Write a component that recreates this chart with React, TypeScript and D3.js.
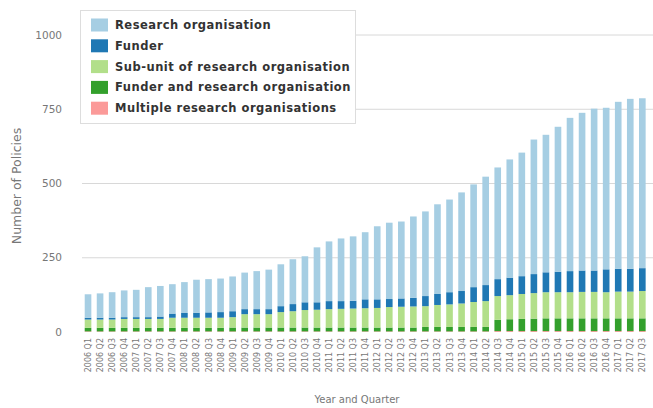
import { useEffect, useRef } from 'react';
import * as d3 from 'd3';

// quarters, cumulative number of policies per type
const startYear = 2006;
const quarters = d3.range(47).map(i => `${startYear + Math.floor(i / 4)} Q${(i % 4) + 1}`);

const researchOrg = [79, 82, 86, 90, 92, 101, 103, 99, 104, 111, 112, 113, 117, 123, 128, 133, 141, 151, 155, 185,
  201, 211, 217, 226, 246, 257, 259, 274, 285, 302, 312, 332, 346, 365, 376, 398, 416, 453, 463, 488,
  516, 531, 545, 544, 562, 572, 572];
const funder = [6, 6, 6, 6, 6, 6, 8, 14, 16, 17, 18, 19, 20, 17, 17, 17, 20, 24, 26, 25,
  27, 26, 26, 30, 29, 27, 28, 29, 34, 37, 41, 42, 50, 54, 57, 59, 60, 64, 67, 69,
  71, 72, 72, 77, 77, 77, 77];
const subUnit = [28, 28, 28, 30, 30, 30, 30, 34, 34, 34, 34, 34, 35, 45, 45, 45, 52, 55, 59, 60,
  62, 63, 64, 65, 66, 69, 70, 71, 70, 74, 76, 79, 84, 87, 80, 81, 84, 86, 88, 88,
  88, 89, 89, 88, 90, 90, 92];
const funderAndRO = [12, 12, 12, 12, 12, 12, 12, 12, 12, 12, 12, 12, 13, 13, 13, 13, 13, 13, 13, 13,
  13, 13, 13, 13, 13, 13, 13, 13, 15, 15, 15, 15, 15, 15, 38, 40, 41, 42, 43, 43,
  43, 43, 43, 43, 43, 43, 43];
const multipleRO = [2, 2, 2, 2, 2, 2, 2, 2, 2, 2, 2, 2, 2, 2, 2, 2, 2, 2, 2, 2,
  2, 2, 2, 2, 2, 2, 2, 2, 2, 2, 2, 2, 2, 2, 3, 3, 3, 3, 3, 3,
  3, 3, 3, 3, 3, 3, 3];

const seriesNames = ['Research organisation', 'Funder', 'Sub-unit of research organisation',
  'Funder and research organisation', 'Multiple research organisations'];
const seriesColors = ['#a6cee3', '#1f78b4', '#b2df8a', '#33a02c', '#fb9a99'];
const yTicks = [0, 250, 500, 750, 1000];

const W = 653, H = 408;
const FONT = 'DejaVu Sans, Verdana, sans-serif';

export default function App() {
  const svgRef = useRef<SVGSVGElement>(null);

  useEffect(() => {
    if (!svgRef.current) return;
    const svg = d3.select(svgRef.current);
    svg.selectAll('*').remove();

    const seriesValues = [researchOrg, funder, subUnit, funderAndRO, multipleRO];
    // table: one row per quarter, keyed by series name
    const table = quarters.map((q, i) => {
      const row: any = { quarter: q };
      seriesNames.forEach((s, k) => { row[s] = seriesValues[k][i]; });
      return row;
    });

    // first legend item sits on top of the stack (reverse order)
    const stackKeys = [...seriesNames].reverse();
    const stacked = d3.stack().keys(stackKeys)(table);
    const color = d3.scaleOrdinal<string, string>().domain(seriesNames).range(seriesColors);

    const x = d3.scaleBand().domain(quarters).range([82, 82 + 47 * 12.05]).paddingInner(0.45).paddingOuter(0.225);
    const y = d3.scaleLinear().domain([0, 1000]).range([332, 35]);

    // gridlines
    svg.append('g')
      .selectAll('line')
      .data(yTicks.filter(t => t > 0))
      .enter().append('line')
      .attr('x1', 82).attr('x2', W)
      .attr('y1', d => y(d)).attr('y2', d => y(d))
      .attr('stroke', '#d8d8d8').attr('stroke-width', 1);

    // y tick labels
    svg.append('g')
      .selectAll('text')
      .data(yTicks)
      .enter().append('text')
      .attr('x', 62).attr('y', d => y(d))
      .attr('dy', '0.35em')
      .attr('text-anchor', 'end')
      .style('font-family', FONT).style('font-size', '10.5px')
      .style('fill', '#777')
      .text(d => d);

    // bars
    svg.append('g')
      .selectAll('g')
      .data(stacked)
      .enter().append('g')
      .attr('fill', d => color(d.key))
      .selectAll('rect')
      .data(d => d)
      .enter().append('rect')
      .attr('x', d => x(d.data.quarter as any) || 0)
      .attr('width', x.bandwidth())
      .attr('y', d => y(d[1]))
      .attr('height', d => y(d[0]) - y(d[1]));

    // x tick labels
    svg.append('g')
      .selectAll('text')
      .data(quarters)
      .enter().append('text')
      .attr('transform', d => `translate(${(x(d) || 0) + x.bandwidth() / 2 + 3},338) rotate(-90)`)
      .attr('text-anchor', 'end')
      .style('font-family', FONT).style('font-size', '8px')
      .style('fill', '#777')
      .text(d => d);

    // axis titles
    svg.append('text')
      .attr('transform', 'translate(21,186) rotate(-90)')
      .attr('text-anchor', 'middle')
      .style('font-family', FONT).style('font-size', '12.5px')
      .style('fill', '#777')
      .text('Number of Policies');

    svg.append('text')
      .attr('x', 357).attr('y', 403)
      .attr('text-anchor', 'middle')
      .style('font-family', FONT).style('font-size', '10px')
      .style('fill', '#777')
      .text('Year and Quarter');

    // legend
    const legend = svg.append('g');
    legend.append('rect')
      .attr('x', 80.5).attr('y', 10.5)
      .attr('width', 275).attr('height', 113)
      .attr('fill', '#fff')
      .attr('stroke', '#ddd');
    const item = legend.selectAll('g.item')
      .data(seriesNames)
      .enter().append('g')
      .attr('class', 'item')
      .attr('transform', (d, i) => `translate(91,${25 + i * 20.8})`);
    item.append('rect')
      .attr('x', 0).attr('y', -6.5)
      .attr('width', 17).attr('height', 13)
      .attr('fill', d => color(d));
    item.append('text')
      .attr('x', 24).attr('dy', '0.35em')
      .style('font-family', FONT).style('font-size', '11.5px')
      .style('font-weight', 'bold')
      .style('letter-spacing', '0.5px')
      .style('fill', '#333')
      .text(d => d);
  }, []);

  return (
    <svg ref={svgRef} width={W} height={H}
      style={{ position: 'absolute', left: 0, top: 0, background: '#fff' }} />
  );
}
